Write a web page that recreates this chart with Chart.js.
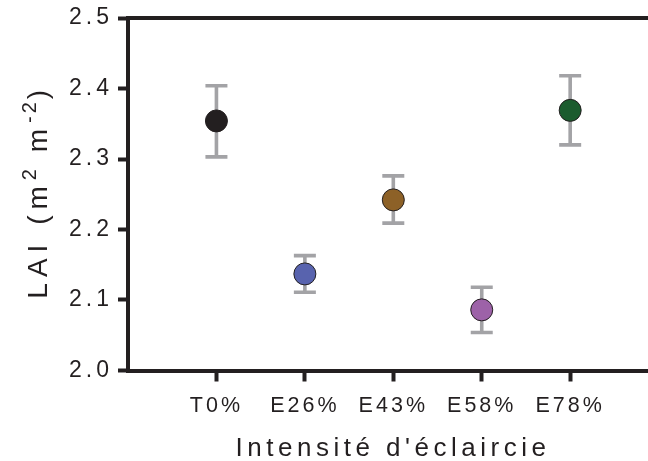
<!DOCTYPE html>
<html><head><meta charset="utf-8">
<script src="https://cdn.jsdelivr.net/npm/chart.js@4.4.1/dist/chart.umd.min.js"></script>
<style>html,body{margin:0;padding:0;background:#fff;} #wrap{width:648px;height:461px;position:relative;}</style>
</head><body><div id="wrap"><canvas id="c" width="648" height="461"></canvas></div>
<script>
const categories = ['T0%', 'E26%', 'E43%', 'E58%', 'E78%'];
const laiMean  = [2.354, 2.137, 2.242, 2.086, 2.369];
const laiUpper = [2.404, 2.163, 2.276, 2.118, 2.418];
const laiLower = [2.303, 2.111, 2.209, 2.054, 2.320];
const pointColors = ['#231f20', '#5863ae', '#8d6127', '#9d62a8', '#1b5c2e'];
const yTicks = [2.0, 2.1, 2.2, 2.3, 2.4, 2.5];
const xTitle = "Intensité d'éclaircie";
const yTitleParts = [['LAI (m', false], ['2', true], [' m', false], ['-2', true], [')', false]];

const FONT = "'Liberation Sans', Arial, Helvetica, sans-serif";
const INK = '#231f20';

// letter spacing per font size (the reference uses widely tracked text)
const SPACING = {'23px': '4px', '21.5px': '3px', '26px': '4.5px', '28px': '6px', '20px': '3px'};
(function () {
  const P = CanvasRenderingContext2D.prototype;
  const of = P.fillText, om = P.measureText;
  function apply(ctx) {
    const m = /(\d+(?:\.\d+)?px)/.exec(ctx.font);
    try { ctx.letterSpacing = (m && SPACING[m[1]]) || '0px'; } catch (e) {}
  }
  P.fillText = function () { apply(this); return of.apply(this, arguments); };
  P.measureText = function () { apply(this); return om.apply(this, arguments); };
})();

const errorBars = {
  id: 'errorBars',
  beforeDatasetsDraw(chart) {
    const ctx = chart.ctx, xs = chart.scales.x, ys = chart.scales.y;
    ctx.save();
    ctx.strokeStyle = '#a3a3a6';
    ctx.lineWidth = 3.6;
    ctx.lineCap = 'butt';
    categories.forEach((c, i) => {
      const x = xs.getPixelForValue(i);
      const yt = ys.getPixelForValue(laiUpper[i]);
      const yb = ys.getPixelForValue(laiLower[i]);
      ctx.beginPath();
      ctx.moveTo(x, yt); ctx.lineTo(x, yb);
      ctx.moveTo(x - 11, yt); ctx.lineTo(x + 11, yt);
      ctx.moveTo(x - 11, yb); ctx.lineTo(x + 11, yb);
      ctx.stroke();
    });
    ctx.restore();
  }
};

const axisTitles = {
  id: 'axisTitles',
  afterDraw(chart) {
    const ctx = chart.ctx, ca = chart.chartArea;
    ctx.save();
    ctx.fillStyle = INK;
    ctx.textBaseline = 'alphabetic';
    // x title
    ctx.font = `26px ${FONT}`;
    ctx.textAlign = 'center';
    ctx.fillText(xTitle, (ca.left + ca.right) / 2 + 5, 456);
    // y title with superscripts
    ctx.textAlign = 'left';
    const fonts = [`28px ${FONT}`, `20px ${FONT}`];
    let total = 0;
    const widths = yTitleParts.map(([t, sup]) => {
      ctx.font = fonts[sup ? 1 : 0];
      const w = ctx.measureText(t).width; total += w; return w;
    });
    ctx.translate(47, (ca.top + ca.bottom) / 2 - 3);
    ctx.rotate(-Math.PI / 2);
    let x = -total / 2;
    yTitleParts.forEach(([t, sup], i) => {
      ctx.font = fonts[sup ? 1 : 0];
      ctx.fillText(t, x, sup ? -11 : 0);
      x += widths[i];
    });
    ctx.restore();
  }
};

function noPad(s) { s.paddingLeft = 0; s.paddingRight = 0; s.paddingTop = 0; s.paddingBottom = 0; }

new Chart(document.getElementById('c'), {
  type: 'scatter',
  data: {
    datasets: [{
      xAxisID: 'x', yAxisID: 'y',
      data: categories.map((c, i) => ({x: i, y: laiMean[i]})),
      pointBackgroundColor: pointColors,
      pointBorderColor: INK,
      pointBorderWidth: 1,
      pointRadius: 11,
      pointHoverRadius: 11,
      showLine: false
    }]
  },
  options: {
    responsive: false, animation: false, devicePixelRatio: 1,
    layout: {padding: 0, autoPadding: false},
    plugins: {legend: {display: false}, tooltip: {enabled: false}},
    events: [],
    scales: {
      x: {
        type: 'linear', position: 'bottom', min: -1, max: 4.88,
        afterBuildTicks: s => { s.ticks = categories.map((c, i) => ({value: i})); },
        afterFit: s => { s.height = 90.5; noPad(s); },
        grid: {display: true, drawOnChartArea: false, drawTicks: true, tickLength: 11, tickWidth: 4, tickColor: INK, color: INK},
        border: {display: true, color: INK, width: 4},
        ticks: {autoSkip: false, maxRotation: 0, minRotation: 0, padding: 12, color: INK,
                font: {family: FONT, size: 21.5}, callback: v => categories[v]},
        title: {display: false}
      },
      xTop: {
        type: 'linear', position: 'top', min: -1, max: 4.88,
        afterFit: s => { s.height = 18; noPad(s); },
        grid: {display: false},
        ticks: {display: false},
        border: {display: true, color: INK, width: 4}
      },
      y: {
        type: 'linear', position: 'left', min: 2.0, max: 2.5,
        afterBuildTicks: s => { s.ticks = yTicks.map(v => ({value: v})); },
        afterFit: s => { s.width = 128; noPad(s); },
        grid: {display: true, drawOnChartArea: false, drawTicks: true, tickLength: 10, tickWidth: 4, tickColor: INK, color: INK},
        border: {display: true, color: INK, width: 4},
        ticks: {padding: 5, color: INK, font: {family: FONT, size: 23}, callback: v => Number(v).toFixed(1)}
      }
    }
  },
  plugins: [errorBars, axisTitles]
});
</script></body></html>
